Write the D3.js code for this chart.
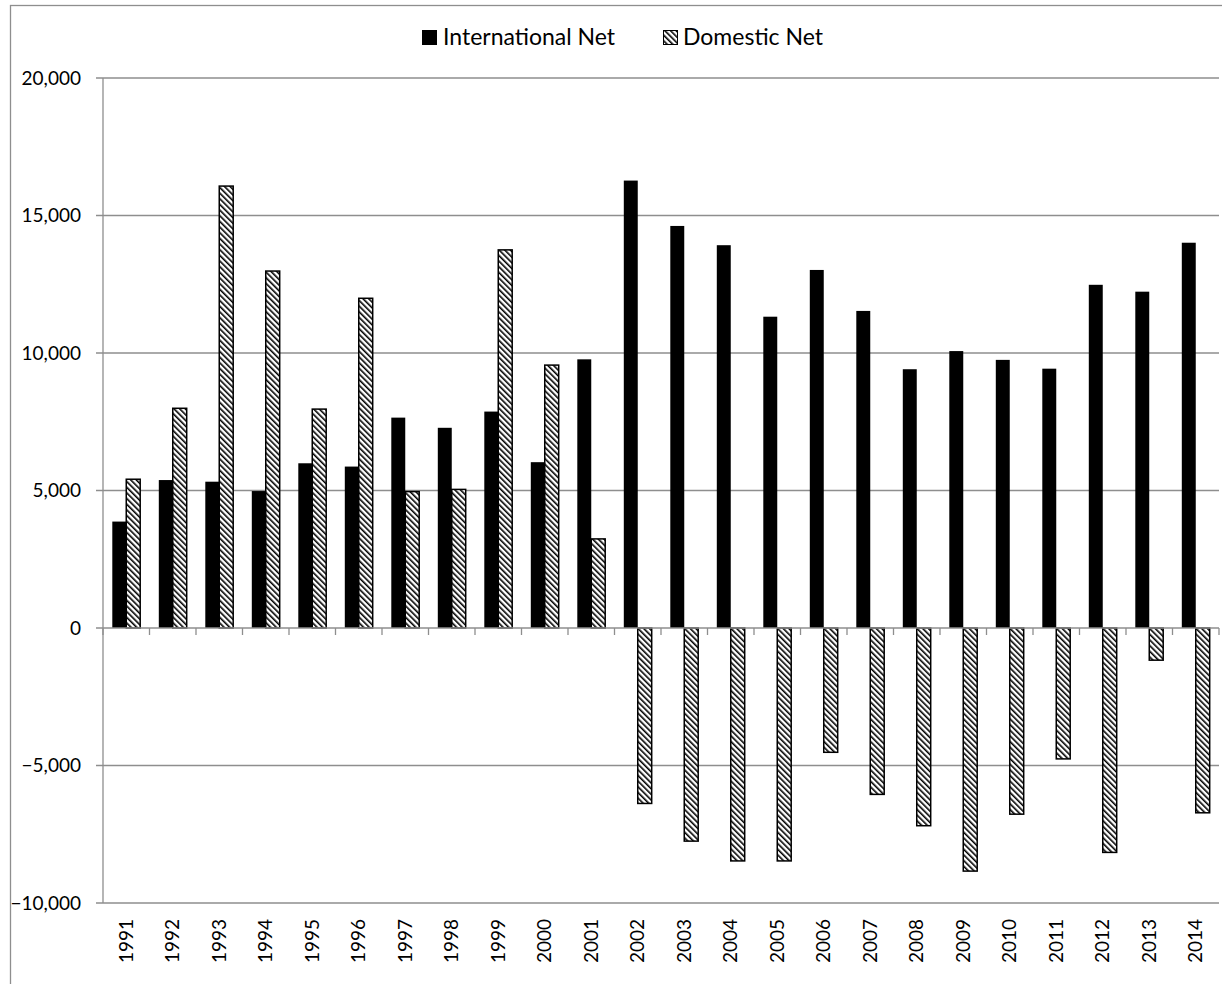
<!DOCTYPE html>
<html>
<head>
<meta charset="utf-8">
<script src="https://cdn.jsdelivr.net/npm/d3@7"></script>
<style>
    body { margin: 0; background: #fff; }
    svg { display: block; font-family: Lato, "Open Sans", sans-serif; }
    .grid line { stroke: #8e8e8e; stroke-width: 1.3; }
    .axis-line { stroke: #8e8e8e; stroke-width: 1.3; fill: none; }
    .lbl { font-size: 19px; fill: #000; }
    .leg { font-size: 23px; fill: #000; }
</style>
</head>
<body>
<svg id="chart" width="1222" height="984"></svg>
<script>
let years = ["1991", "1992", "1993", "1994", "1995", "1996", "1997", "1998", "1999", "2000", "2001", "2002",
    "2003", "2004", "2005", "2006", "2007", "2008", "2009", "2010", "2011", "2012", "2013", "2014"];
let intlNet = [3870, 5380, 5320, 4980, 5990, 5870, 7650, 7280, 7870, 6030, 9770, 16270,
    14620, 13920, 11320, 13020, 11530, 9410, 10070, 9750, 9430, 12480, 12230, 14010];
let domNet = [5410, 7990, 16070, 12980, 7960, 11990, 4960, 5040, 13750, 9560, 3240, -6380,
    -7750, -8470, -8470, -4520, -6050, -7190, -8840, -6770, -4760, -8160, -1170, -6720];
let yTicks = [-10000, -5000, 0, 5000, 10000, 15000, 20000];
let seriesNames = ["International Net", "Domestic Net"];

let svg = d3.select("#chart"),
    margin = {top: 78, right: 3, bottom: 81, left: 103},
    width = +svg.attr("width") - margin.left - margin.right,
    height = +svg.attr("height") - margin.top - margin.bottom;

let defs = svg.append("defs");
let pat = defs.append("pattern")
    .attr("id", "hatch")
    .attr("patternUnits", "userSpaceOnUse")
    .attr("width", 4)
    .attr("height", 4)
    .attr("patternTransform", "rotate(-45)");
pat.append("rect").attr("width", 4).attr("height", 4).attr("fill", "#fff");
pat.append("rect").attr("width", 1.6).attr("height", 4).attr("fill", "#000");

// outer chart frame
svg.append("rect")
    .attr("x", 10.5).attr("y", 5.5)
    .attr("width", 1230).attr("height", 1000)
    .attr("fill", "none")
    .attr("stroke", "#8e8e8e")
    .attr("stroke-width", 1.3);

let g = svg.append("g").attr("transform", "translate(" + margin.left + "," + margin.top + ")");

let data = years.map(function (yr, i) {
    return {year: yr, values: [{key: "intl", v: intlNet[i]}, {key: "dom", v: domNet[i]}]};
});

let x0 = d3.scaleBand()
    .domain(years)
    .range([0, width])
    .paddingInner(0.4)
    .paddingOuter(0.2);

let x1 = d3.scaleBand()
    .domain(["intl", "dom"])
    .range([0, x0.bandwidth()]);

let y = d3.scaleLinear()
    .domain([-10000, 20000])
    .range([height, 0]);

let fmt = d3.format(",");

// gridlines + y labels
let grid = g.append("g").attr("class", "grid");
grid.selectAll("line")
    .data(yTicks.filter(function (d) { return d !== 0; }))
    .enter().append("line")
    .attr("x1", -7)
    .attr("x2", width)
    .attr("y1", function (d) { return y(d); })
    .attr("y2", function (d) { return y(d); });

g.append("g").selectAll("text")
    .data(yTicks)
    .enter().append("text")
    .attr("class", "lbl")
    .attr("x", -22)
    .attr("y", function (d) { return y(d); })
    .attr("dy", "0.35em")
    .style("text-anchor", "end")
    .text(function (d) { return fmt(d); });

g.append("line")
    .attr("class", "axis-line")
    .attr("x1", 0).attr("x2", 0)
    .attr("y1", 0).attr("y2", height);

// bars
let bar = g.selectAll(".bar")
    .data(data)
    .enter().append("g")
    .attr("class", "bar")
    .attr("transform", function (d) {
        return "translate(" + x0(d.year) + ",0)";
    });

bar.selectAll("rect")
    .data(function (d) { return d.values; })
    .enter().append("rect")
    .attr("x", function (d) { return x1(d.key); })
    .attr("width", x1.bandwidth())
    .attr("y", function (d) { return y(Math.max(0, d.v)); })
    .attr("height", function (d) { return Math.abs(y(d.v) - y(0)); })
    .attr("fill", function (d) { return d.key === "intl" ? "#000" : "url(#hatch)"; })
    .attr("stroke", function (d) { return d.key === "intl" ? "none" : "#000"; })
    .attr("stroke-width", 1.5);

// x axis at zero
let xAxis = g.append("g").attr("transform", "translate(0," + y(0) + ")");
xAxis.append("line")
    .attr("class", "axis-line")
    .attr("x1", -7).attr("x2", width)
    .attr("y1", 0).attr("y2", 0);
xAxis.selectAll(".tk")
    .data(d3.range(years.length + 1))
    .enter().append("line")
    .attr("class", "axis-line tk")
    .attr("x1", function (i) { return i * x0.step(); })
    .attr("x2", function (i) { return i * x0.step(); })
    .attr("y1", 0).attr("y2", 7);

g.append("g").selectAll("text")
    .data(years)
    .enter().append("text")
    .attr("class", "lbl")
    .attr("transform", function (d) {
        return "translate(" + (x0(d) + x0.bandwidth() / 2) + "," + (height + 16) + ") rotate(-90)";
    })
    .attr("dy", "0.35em")
    .style("text-anchor", "end")
    .text(function (d) { return d; });

// legend
let legend = svg.append("g").attr("transform", "translate(422,30)");
let lx = [0, 241];
seriesNames.forEach(function (name, i) {
    let item = legend.append("g").attr("transform", "translate(" + lx[i] + ",0)");
    item.append("rect")
        .attr("x", i === 0 ? 0 : 0.5)
        .attr("y", i === 0 ? 0 : 0.5)
        .attr("width", i === 0 ? 15 : 14).attr("height", i === 0 ? 15 : 14)
        .attr("fill", i === 0 ? "#000" : "url(#hatch)")
        .attr("stroke", "#000")
        .attr("stroke-width", i === 0 ? 0 : 1);
    item.append("text")
        .attr("class", "leg")
        .attr("x", i === 0 ? 21 : 20)
        .attr("y", 15)
        .text(name);
});
</script>
</body>
</html>
